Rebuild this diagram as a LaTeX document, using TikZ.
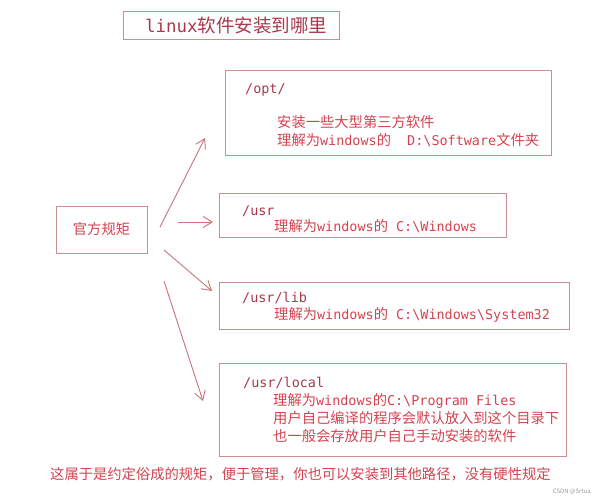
\documentclass[tikz,border=0pt]{standalone}
\usepackage{fontspec}
\usetikzlibrary{arrows.meta}
\newfontfamily\cjk{Noto Sans CJK SC}
\newfontfamily\monof[Scale=0.94]{DejaVu Sans Mono}
\newcommand\M[1]{{\monof #1}}
\definecolor{boxc}{HTML}{C98E92}
\definecolor{pathc}{HTML}{A8384A}
\definecolor{txtc}{HTML}{D2434F}
\definecolor{arrc}{HTML}{C9737B}
\tikzset{
  frame/.style={draw=boxc, line width=0.9pt},
  pathlbl/.style={anchor=base west, inner sep=0pt, text=pathc, font=\fontsize{14.3}{16}\selectfont\monof},
  desc/.style={anchor=base west, inner sep=0pt, text=txtc, font=\fontsize{14.3}{16}\selectfont\cjk},
  conn/.style={draw=arrc, line width=0.9pt, -{Straight Barb[length=9pt,width=11pt]}},
}
\begin{document}
\begin{tikzpicture}[x=1pt,y=-1pt]
\useasboundingbox (0,0) rectangle (595,500);
% title
\draw[frame] (123,11) rectangle (339,39);
\node[anchor=base west, inner sep=0pt, text=pathc, font=\fontsize{18.5}{21}\selectfont\cjk] (title) at (145,33) {\M{linux}软件安装到哪里};
% left box
\draw[frame] (56,206) rectangle (147,253);
\node[inner sep=0pt, text=txtc, font=\fontsize{14.3}{16}\selectfont\cjk] (gf) at (101.5,229.5) {官方规矩};
% box 1
\draw[frame] (225,70) rectangle (551,155);
\node[pathlbl] (p1) at (245,94) {/opt/};
\node[desc] (d1a) at (277,128) {安装一些大型第三方软件};
\node[desc] (d1b) at (277,146) {理解为\M{windows}的\M{\ \ D:\textbackslash Software}文件夹};
% box 2
\draw[frame] (219,193) rectangle (506,237);
\node[pathlbl] (p2) at (242,215) {/usr};
\node[desc] (d2) at (274,232) {理解为\M{windows}的\M{\ C:\textbackslash Windows}};
% box 3
\draw[frame] (219,282) rectangle (569,329);
\node[pathlbl] (p3) at (242,302) {/usr/lib};
\node[desc] (d3) at (274,319) {理解为\M{windows}的\M{\ C:\textbackslash Windows\textbackslash System32}};
% box 4
\draw[frame] (219,363) rectangle (566,456);
\node[pathlbl] (p4) at (243,387) {/usr/local};
\node[desc] (d4a) at (273,405) {理解为\M{windows}的\M{C:\textbackslash Program\ Files}};
\node[desc] (d4b) at (273,423) {用户自己编译的程序会默认放入到这个目录下};
\node[desc] (d4c) at (273,441) {也一般会存放用户自己手动安装的软件};
% arrows
\coordinate (a1s) at (160,227); \coordinate (a1e) at (205,138);
\coordinate (a2s) at (178,222); \coordinate (a2e) at (213,222);
\coordinate (a3s) at (164,250); \coordinate (a3e) at (212,291);
\coordinate (a4s) at (164,281); \coordinate (a4e) at (203,401);
\draw[conn] (a1s) -- (a1e);
\draw[conn] (a2s) -- (a2e);
\draw[conn] (a3s) -- (a3e);
\draw[conn] (a4s) -- (a4e);
% bottom
\node[desc] (note) at (50,479) {这属于是约定俗成的规矩，便于管理，你也可以安装到其他路径，没有硬性规定};
\node[anchor=east, inner sep=0pt, text=black!40, font=\fontsize{6}{7}\selectfont\cjk] (wm) at (591,492) {CSDN @Srtua};
\end{tikzpicture}
\end{document}
